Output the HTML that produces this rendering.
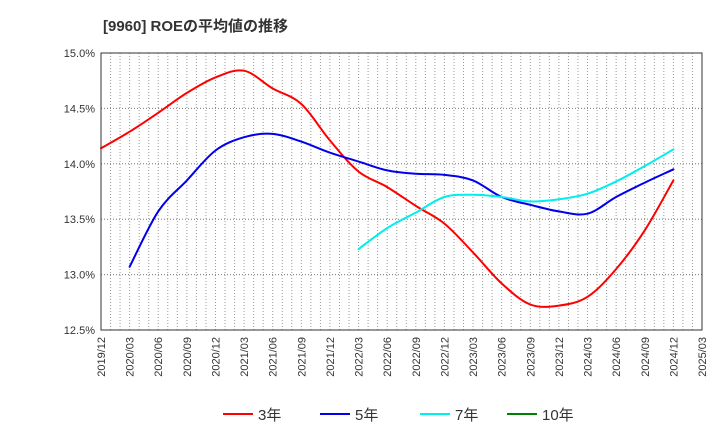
<!DOCTYPE html>
<html><head><meta charset="utf-8"><style>
body{margin:0;background:#fff;}
svg{font-family:"Liberation Sans","Noto Sans CJK JP",sans-serif;}
</style></head><body>
<svg width="720" height="440" xmlns="http://www.w3.org/2000/svg">
<text x="103" y="31" font-size="15" font-weight="bold" fill="#333">[9960]  ROEの平均値の推移</text>
<g id="grid"></g>
<g id="axes"></g>
<g id="series"></g>
<rect x="101" y="53" width="601" height="277" fill="none" stroke="#333" stroke-width="1"/>
<g id="legend"></g>
</svg>
<script>
const xLabels=["2019/12","2020/03","2020/06","2020/09","2020/12","2021/03","2021/06","2021/09","2021/12","2022/03","2022/06","2022/09","2022/12","2023/03","2023/06","2023/09","2023/12","2024/03","2024/06","2024/09","2024/12","2025/03"];
const yTicks=[12.5,13.0,13.5,14.0,14.5,15.0];
const roe3=[14.14,14.29,14.46,14.64,14.78,14.84,14.68,14.54,14.21,13.93,13.79,13.62,13.46,13.20,12.92,12.73,12.72,12.80,13.05,13.40,13.85];
const roe5=[null,13.07,13.57,13.85,14.12,14.24,14.27,14.20,14.10,14.02,13.94,13.91,13.90,13.85,13.70,13.63,13.57,13.55,13.70,13.83,13.95];
const roe7=[null,null,null,null,null,null,null,null,null,13.23,13.42,13.56,13.70,13.72,13.70,13.66,13.68,13.73,13.84,13.98,14.13];
const roe10=[];
const NS="http://www.w3.org/2000/svg";
const X0=101,X1=702,Y0=53,Y1=330,yMin=12.5,yMax=15.0;
const nQ=xLabels.length-1;
function xq(i){return X0+(X1-X0)*i/nQ;}
function xm(m){return X0+(X1-X0)*m/(nQ*3);}
function yv(v){return Y1-(v-yMin)/(yMax-yMin)*(Y1-Y0);}
function mk(tag,attrs,parent){const e=document.createElementNS(NS,tag);for(const k in attrs)e.setAttribute(k,attrs[k]);parent.appendChild(e);return e;}
const grid=document.getElementById('grid'),axes=document.getElementById('axes'),ser=document.getElementById('series'),leg=document.getElementById('legend');
for(let m=1;m<nQ*3;m++){const l=mk('line',{x1:xm(m),x2:xm(m),y1:Y0,y2:Y1,stroke:'#999','stroke-dasharray':'1,2','stroke-width':1},grid);

}
yTicks.forEach(v=>{const l=mk('line',{x1:X0,x2:X1,y1:yv(v),y2:yv(v),stroke:'#777','stroke-dasharray':'1,2','stroke-width':1},grid);


const t=mk('text',{x:X0-6,y:yv(v)+4,'font-size':11,'text-anchor':'end',fill:'#333'},axes);t.textContent=v.toFixed(1)+'%';

});
xLabels.forEach((s,i)=>{const x=xq(i);const t=mk('text',{x:0,y:0,'font-size':11,'text-anchor':'end',fill:'#333',transform:`translate(${x+4},337) rotate(-90)`},axes);t.textContent=s;

});
function drawLine(arr,color,name){
const pts=[];arr.forEach((v,i)=>{if(v!=null)pts.push([xq(i),yv(v)]);});
if(pts.length<2)return;
let d='M'+pts[0][0].toFixed(1)+','+pts[0][1].toFixed(1);
for(let i=0;i<pts.length-1;i++){
const p0=pts[Math.max(0,i-1)],p1=pts[i],p2=pts[i+1],p3=pts[Math.min(pts.length-1,i+2)];
const c1x=p1[0]+(p2[0]-p0[0])/6,c1y=p1[1]+(p2[1]-p0[1])/6;
const c2x=p2[0]-(p3[0]-p1[0])/6,c2y=p2[1]-(p3[1]-p1[1])/6;
d+='C'+c1x.toFixed(1)+','+c1y.toFixed(1)+' '+c2x.toFixed(1)+','+c2y.toFixed(1)+' '+p2[0].toFixed(1)+','+p2[1].toFixed(1);}
const p=mk('path',{d:d,fill:'none',stroke:color,'stroke-width':2,'stroke-linejoin':'round','stroke-linecap':'round'},ser);

}
drawLine(roe3,'#ff0000','line-3yr');
drawLine(roe5,'#0000ee','line-5yr');
drawLine(roe7,'#00eeee','line-7yr');
drawLine(roe10,'#008000','line-10yr');
[['3年','#ff0000',223],['5年','#0000ee',320],['7年','#00eeee',420],['10年','#008000',507]].forEach(e=>{
const g=mk('g',{},leg);


mk('line',{x1:e[2],x2:e[2]+30,y1:414,y2:414,stroke:e[1],'stroke-width':2},g);
const t=mk('text',{x:e[2]+35,y:420,'font-size':15,fill:'#333'},g);t.textContent=e[0];});
</script>
</body></html>
